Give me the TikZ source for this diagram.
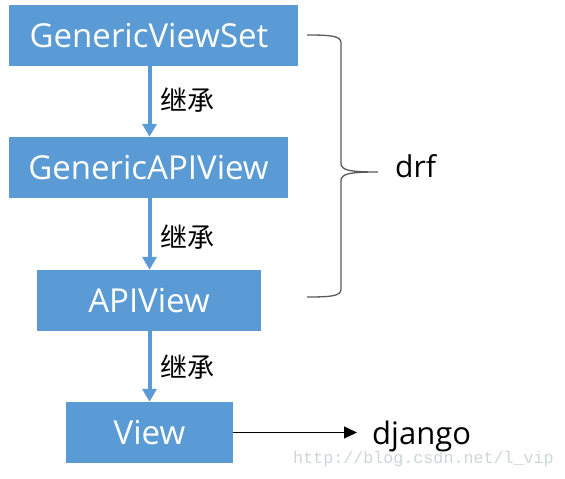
\documentclass[tikz,border=0pt]{standalone}
\usepackage{fontspec}
\setmainfont{Open Sans}
\newfontfamily\cjk{Noto Sans CJK SC}
\newfontfamily\wmfont{Liberation Mono}
\usetikzlibrary{arrows.meta}
\definecolor{boxblue}{RGB}{91,155,213}
\definecolor{bracegray}{RGB}{90,90,90}
\definecolor{wmgray}{RGB}{205,214,214}
\tikzset{
  classbox/.style={fill=boxblue, draw=none, text=white, minimum height=61pt, inner sep=0pt,
    font=\fontsize{33}{38}\selectfont},
  inherit/.style={draw=boxblue, line width=4pt, -{Triangle[width=14pt,length=13pt]}},
  inhlabel/.style={font=\cjk\fontsize{27}{30}\selectfont, anchor=west, inner sep=0pt},
  sidelabel/.style={font=\fontsize{30}{34}\selectfont, anchor=base west, inner sep=0pt},
}
\begin{document}
\begin{tikzpicture}[x=1pt,y=-1pt]
\useasboundingbox (0,0) rectangle (565,479);
\node[classbox, minimum width=289pt] (gvs) at (153.5,35.5) {GenericViewSet\hspace*{9pt}};
\node[classbox, minimum width=279pt] (gapi) at (148.5,167.5) {GenericAPIView};
\node[classbox, minimum width=224pt] (api) at (149,300.5) {APIView};
\node[classbox, minimum width=167pt] (view) at (149.5,432.5) {View};

\draw[inherit] (gvs.south -| view) -- (gapi.north -| view);
\draw[inherit] (gapi.south -| view) -- (api.north -| view);
\draw[inherit] (api.south -| view) -- (view.north -| view);

\node[inhlabel] (l1) at (160,100) {继承};
\node[inhlabel] (l2) at (160,237) {继承};
\node[inhlabel] (l3) at (160,367) {继承};

\coordinate (bt) at (307,35);
\coordinate (bb) at (307,297);
\coordinate (tip) at (378,172);
\draw[bracegray, line width=1.3pt] (bt) .. controls (332,35) and (341,36) .. (341,43)
  -- (341,163) .. controls (341,170) and (348,172) .. (tip)
  .. controls (348,172) and (341,174) .. (341,181)
  -- (341,289) .. controls (341,296) and (332,297) .. (bb);
\node[sidelabel] (drf) at (395,177) {drf};

\node[sidelabel, font=\fontsize{31}{34}\selectfont] (dj) at (372,444) {django};
\coordinate (djin) at (357,432.5);
\draw[line width=1pt, -{Triangle[width=12pt,length=13pt]}] (view.east) -- (djin);

\node[font=\wmfont\fontsize{16.7}{18}\selectfont, text=wmgray, anchor=west, inner sep=0pt] (wm) at (293,459) {http://blog.csdn.net/l\_vip};
\end{tikzpicture}
\end{document}
